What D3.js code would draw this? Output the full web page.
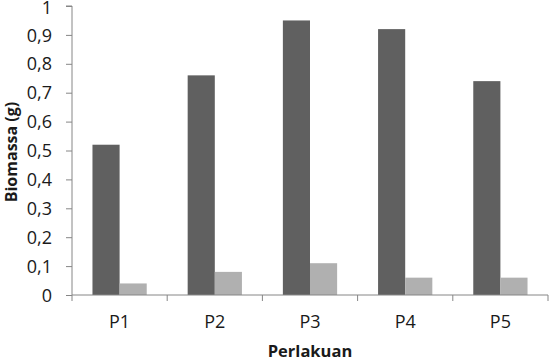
<!DOCTYPE html>
<html><head><meta charset="utf-8">
<script src="https://cdn.jsdelivr.net/npm/d3@7/dist/d3.min.js"></script>
<style>body{margin:0;background:#fff}svg{display:block}text{font-family:"Open Sans",sans-serif}</style>
</head><body>
<script>
const categories = ["P1","P2","P3","P4","P5"];
const series1 = [0.52,0.76,0.95,0.92,0.74];
const series2 = [0.04,0.08,0.11,0.06,0.06];
const yTicks = [0,0.1,0.2,0.3,0.4,0.5,0.6,0.7,0.8,0.9,1];
const yTickLabels = ["0","0,1","0,2","0,3","0,4","0,5","0,6","0,7","0,8","0,9","1"];

const W=549,H=361;
const svg=d3.select("body").append("svg").attr("width",W).attr("height",H);
const x0=72,x1=548,yTop=6,yBot=295;
const x=d3.scaleBand().domain(categories).range([x0,x1]).paddingInner(0).paddingOuter(0);
const y=d3.scaleLinear().domain([0,1]).range([yBot,yTop]);
const gap=x.bandwidth()*0.215;
const bw=(x.bandwidth()-2*gap)/2;
const colors=["#606060","#b0b0b0"];
const data=categories.map((c,i)=>({c,v:[series1[i],series2[i]]}));
data.forEach(d=>{
  d.v.forEach((v,j)=>{
    svg.append("rect").attr("x",x(d.c)+gap+j*bw).attr("y",y(v)).attr("width",bw).attr("height",yBot-y(v)).attr("fill",colors[j]);
  });
});
const axCol="#868686";
const ya=svg.append("g").attr("transform",`translate(${x0},0)`).call(d3.axisLeft(y).tickValues(yTicks).tickFormat((d,i)=>yTickLabels[i]).tickSize(6).tickPadding(14));
ya.select(".domain").attr("stroke",axCol).attr("d",`M-6,${yTop}H0V${yBot}`);
ya.selectAll(".tick line").attr("stroke",axCol);
ya.selectAll(".tick text").attr("font-size",18).attr("fill","#1a1a1a").attr("font-family","'Open Sans',sans-serif").attr("dy",d=>d===1?"0.42em":"0.34em");
svg.append("line").attr("x1",x0).attr("x2",x1).attr("y1",yBot).attr("y2",yBot).attr("stroke",axCol);
const bounds=categories.map(c=>x(c)).concat([x1]);
bounds.forEach(b=>svg.append("line").attr("x1",b).attr("x2",b).attr("y1",yBot).attr("y2",yBot+6).attr("stroke",axCol));
categories.forEach(c=>svg.append("text").attr("x",x(c)+x.bandwidth()/2).attr("y",328).attr("text-anchor","middle").attr("font-size",18).attr("fill","#1a1a1a").text(c));
svg.append("text").attr("x",310).attr("y",357).attr("text-anchor","middle").attr("font-size",16.5).attr("font-weight","bold").attr("fill","#1a1a1a").text("Perlakuan");
svg.append("text").attr("transform","translate(17,152) rotate(-90)").attr("text-anchor","middle").attr("font-size",16).attr("font-weight","bold").attr("fill","#1a1a1a").text("Biomassa (g)");
</script>
</body></html>
